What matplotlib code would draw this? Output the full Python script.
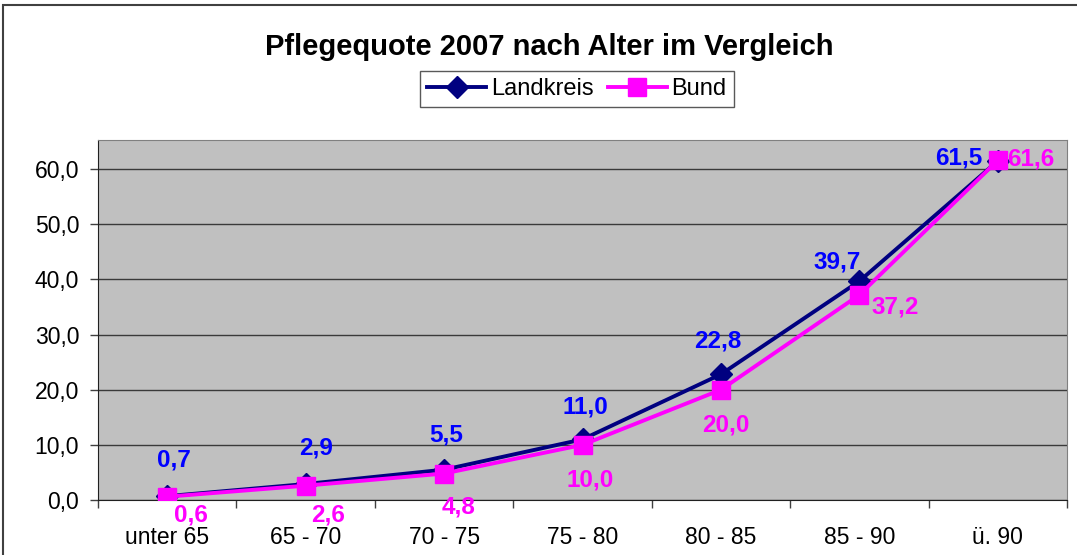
import numpy as np
import matplotlib
matplotlib.use('Agg')
import matplotlib.pyplot as plt
from matplotlib.patches import Rectangle

plt.rcParams['font.family'] = ['Liberation Sans', 'DejaVu Sans']

categories = ['unter 65', '65 - 70', '70 - 75', '75 - 80', '80 - 85', '85 - 90', 'ü. 90']
landkreis = [0.7, 2.9, 5.5, 11.0, 22.8, 39.7, 61.5]
bund = [0.6, 2.6, 4.8, 10.0, 20.0, 37.2, 61.6]
yticks = [0, 10, 20, 30, 40, 50, 60]

# label offsets in pixels (dx, dy up), hand placed like in the excel sheet
lk_off = [(7, 36), (10, 36), (2, 35), (3, 32), (-3, 33), (-22, 19), (-39, 3)]
bd_off = [(24, -18), (22, -29), (14, -33), (8, -35), (5, -35), (36, -12), (33, 1)]

fig = plt.figure(figsize=(10.77, 5.55), dpi=100)
ax = fig.add_axes([98/1077, 1-500/555, 969/1077, 360/555])

x = np.arange(len(categories))
ax.set_facecolor('#C0C0C0')
ax.plot(x, landkreis, color='#000080', linewidth=2.8, marker='D', markersize=11, label='Landkreis', zorder=3)
ax.plot(x, bund, color='#FF00FF', linewidth=2.8, marker='s', markersize=13.5, label='Bund', zorder=4)

px = 0.72
for i, v in enumerate(landkreis):
    ax.annotate(('%.1f' % v).replace('.', ','), (x[i], v), xytext=(lk_off[i][0]*px, lk_off[i][1]*px),
                textcoords='offset points', ha='center', va='center', color='#0000FF',
                fontsize=17.5, fontweight='bold', zorder=5)
for i, v in enumerate(bund):
    ax.annotate(('%.1f' % v).replace('.', ','), (x[i], v), xytext=(bd_off[i][0]*px, bd_off[i][1]*px),
                textcoords='offset points', ha='center', va='center', color='#FF00FF',
                fontsize=17.5, fontweight='bold', zorder=5, annotation_clip=False)

ax.set_xlim(-0.5, len(categories) - 0.5)
ax.set_ylim(0, 65.3)
ax.set_yticks(yticks)
ax.set_yticklabels([('%.1f' % t).replace('.', ',') for t in yticks], fontsize=16.5)
ax.yaxis.grid(True, color='#3a3a3a', linewidth=1)
ax.set_axisbelow(True)
ax.set_xticks(np.arange(len(categories) + 1) - 0.5)
ax.set_xticklabels([])
ax.set_xticks(x, minor=True)
ax.set_xticklabels(categories, minor=True, fontsize=16.5)
ax.tick_params(axis='x', which='minor', length=0, pad=19)
ax.tick_params(axis='x', which='major', length=6, width=1, direction='out', color='#404040')
ax.tick_params(axis='y', length=5.5, width=1, direction='out', pad=8, color='#404040')
ax.spines['top'].set_color('#808080')
ax.spines['right'].set_color('#808080')
ax.spines['left'].set_color('#202020')
ax.spines['bottom'].set_color('#202020')

fig.text(549/1077, 1-47/555, 'Pflegequote 2007 nach Alter im Vergleich', ha='center', va='center',
         fontsize=21, fontweight='bold')
leg = ax.legend(loc='center', bbox_to_anchor=(577/1077, 1-89/555), bbox_transform=fig.transFigure,
                ncol=2, fontsize=17, frameon=True, fancybox=False, handlelength=2.5,
                columnspacing=0.6, handletextpad=0.2, borderpad=0.3, borderaxespad=0)
leg.get_frame().set_edgecolor('#303030')
leg.get_frame().set_linewidth(1)

fig.patches.append(Rectangle((3/1077, -0.1), 1.2, 1-5/555+0.1, transform=fig.transFigure,
                             fill=False, edgecolor='#404040', linewidth=1.5))

fig.savefig('out.png', dpi=100)
